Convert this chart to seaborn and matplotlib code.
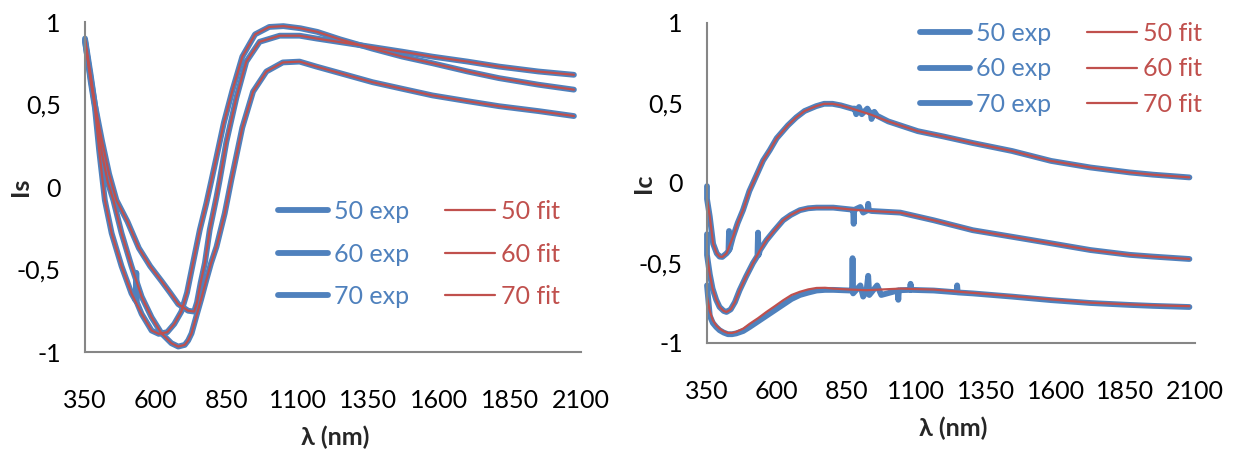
import matplotlib
matplotlib.use("Agg")
import matplotlib.pyplot as plt
import numpy as np
import pandas as pd
import seaborn as sns

# ---- Is panel (left) ----
is_wl_50 = [350, 370, 385, 410, 435, 461, 500, 540, 580, 620, 650, 679, 714, 735, 745, 758, 773, 790,
            814, 825, 849, 884, 919, 966, 1037, 1107, 1166, 1250, 1365, 1470, 1576, 1700, 1810, 1950, 2075]
is_fit_50 = [0.90, 0.68, 0.50, 0.28, 0.08, -0.08, -0.21, -0.37, -0.48, -0.57, -0.64, -0.71, -0.75, -0.755,
             -0.70, -0.58, -0.46, -0.26, -0.06, 0.04, 0.275, 0.54, 0.76, 0.88, 0.917, 0.917, 0.90, 0.878,
             0.848, 0.82, 0.79, 0.76, 0.73, 0.70, 0.68]

is_wl_60 = [350, 370, 385, 400, 420, 444, 479, 514, 550, 585, 610, 640, 665, 690, 710, 730, 755, 778,
            796, 815, 840, 870, 905, 950, 1000, 1050, 1110, 1170, 1250, 1365, 1470, 1576, 1700, 1810, 1950, 2075]
is_fit_60 = [0.89, 0.64, 0.48, 0.22, -0.08, -0.28, -0.48, -0.645, -0.77, -0.87, -0.89, -0.88, -0.83, -0.755,
             -0.64, -0.47, -0.26, -0.10, 0.04, 0.19, 0.39, 0.585, 0.79, 0.925, 0.97, 0.975, 0.962, 0.94,
             0.895, 0.838, 0.79, 0.75, 0.70, 0.66, 0.62, 0.59]

is_wl_70 = [350, 370, 385, 410, 430, 450, 479, 514, 550, 585, 620, 655, 679, 702, 714, 726, 745, 760, 778,
            795, 814, 843, 866, 905, 943, 990, 1048, 1107, 1166, 1250, 1365, 1470, 1576, 1700, 1810, 1950, 2075]
is_fit_70 = [0.88, 0.66, 0.50, 0.20, 0.03, -0.08, -0.28, -0.48, -0.665, -0.79, -0.887, -0.947, -0.967,
             -0.957, -0.93, -0.887, -0.77, -0.68, -0.564, -0.46, -0.362, -0.16, 0.04, 0.36, 0.578, 0.70,
             0.755, 0.76, 0.73, 0.69, 0.635, 0.595, 0.555, 0.52, 0.49, 0.46, 0.43]

# spike seen in the 60 exp curve
is_spike_wl_60 = [529, 531, 533]
is_spike_v_60 = [-0.69, -0.52, -0.70]

# ---- Ic panel (right) ----
ic_wl_50 = [350, 360, 372, 385, 395, 405, 420, 443, 460, 479, 502, 515, 551, 575, 600, 640, 670, 700,
            741, 770, 800, 830, 870, 938, 1000, 1106, 1200, 1303, 1444, 1584, 1725, 1866, 1950, 2080]
ic_fit_50 = [-0.10, -0.21, -0.38, -0.44, -0.46, -0.462, -0.44, -0.337, -0.25, -0.17, -0.05, 0.0, 0.14,
             0.205, 0.28, 0.36, 0.41, 0.45, 0.48, 0.495, 0.495, 0.485, 0.465, 0.427, 0.385, 0.324, 0.29,
             0.25, 0.20, 0.138, 0.097, 0.066, 0.052, 0.035]
ic_extra_wl_50 = [350, 427, 429, 431, 880, 885, 895, 905, 925, 940, 950, 960]
ic_extra_v_50 = [-0.02, -0.425, -0.30, -0.415, 0.465, 0.43, 0.475, 0.43, 0.465, 0.40, 0.445, 0.42]

ic_wl_60 = [350, 360, 370, 383, 395, 410, 420, 435, 450, 467, 490, 515, 540, 563, 590, 623, 650, 683,
            713, 743, 803, 863, 940, 1043, 1163, 1303, 1444, 1584, 1725, 1866, 1950, 2080]
ic_fit_60 = [-0.45, -0.57, -0.66, -0.73, -0.775, -0.80, -0.806, -0.79, -0.745, -0.67, -0.585, -0.50, -0.42,
             -0.358, -0.30, -0.233, -0.20, -0.17, -0.158, -0.154, -0.154, -0.165, -0.175, -0.185, -0.233,
             -0.295, -0.336, -0.377, -0.419, -0.449, -0.46, -0.475]
ic_extra_wl_60 = [350, 531, 533, 535, 874, 876, 878, 900, 910, 926, 928, 930]
ic_extra_v_60 = [-0.32, -0.455, -0.31, -0.45, -0.167, -0.255, -0.168, -0.15, -0.185, -0.17, -0.13, -0.17]

ic_wl_70 = [350, 360, 371, 383, 395, 410, 425, 440, 455, 480, 503, 533, 563, 593, 623, 653, 683, 713,
            743, 773, 803, 863, 922, 1043, 1163, 1303, 1444, 1584, 1725, 1866, 1950, 2080]
ic_fit_70 = [-0.71, -0.80, -0.858, -0.89, -0.91, -0.927, -0.937, -0.937, -0.93, -0.91, -0.88, -0.845,
             -0.806, -0.77, -0.733, -0.70, -0.68, -0.665, -0.656, -0.655, -0.66, -0.666, -0.67, -0.66,
             -0.666, -0.687, -0.707, -0.728, -0.748, -0.759, -0.764, -0.77]
ic_exp_70 = [-0.64, -0.83, -0.875, -0.90, -0.92, -0.935, -0.945, -0.945, -0.94, -0.925, -0.90, -0.865,
             -0.83, -0.795, -0.76, -0.725, -0.70, -0.685, -0.672, -0.668, -0.668, -0.672, -0.675, -0.67,
             -0.672, -0.69, -0.71, -0.732, -0.75, -0.762, -0.768, -0.775]
ic_extra_wl_70 = [870, 872, 874, 900, 910, 928, 932, 960, 975, 1034, 1036, 1038, 1078, 1080, 1082,
                  1245, 1247, 1249]
ic_extra_v_70 = [-0.67, -0.47, -0.69, -0.64, -0.71, -0.58, -0.70, -0.64, -0.70, -0.672, -0.73, -0.672,
                 -0.668, -0.63, -0.668, -0.683, -0.64, -0.684]

angles = ['50', '60', '70']
x_ticks = [350, 600, 850, 1100, 1350, 1600, 1850, 2100]
y_ticks = [-1, -0.5, 0, 0.5, 1]
y_tick_labels = ['-1', '-0,5', '0', '0,5', '1']

BLUE = '#4F81BD'
RED = '#C0504D'
AXIS_GREY = '#868686'
FS = 18

sns.set_style("white")
plt.rcParams['font.family'] = ['Lato', 'DejaVu Sans']


def merged(wl, v, extra_wl=(), extra_v=()):
    x = np.array(list(extra_wl) + list(wl), dtype=float)
    y = np.array(list(extra_v) + list(v), dtype=float)
    order = np.argsort(x, kind='stable')
    return pd.DataFrame({'wl': x[order], 'v': y[order]})


def draw_panel(ax, curves, ylabel, leg_anchor, row_gap):
    # thick blue experimental curves first, thin red fits on top
    for angle, c in zip(angles, curves):
        df = merged(c['wl'], c['exp'], c.get('xwl', ()), c.get('xv', ()))
        sns.lineplot(data=df, x='wl', y='v', ax=ax, sort=False, estimator=None,
                     color=BLUE, lw=4.2, label=f'{angle} exp')
    for angle, c in zip(angles, curves):
        df = pd.DataFrame({'wl': c['wl'], 'v': c['fit']})
        sns.lineplot(data=df, x='wl', y='v', ax=ax, sort=False, estimator=None,
                     color=RED, lw=1.6, label=f'{angle} fit')
    for ln in ax.get_lines():
        ln.set_clip_on(False)

    ax.set_xlim(350, 2100)
    ax.set_ylim(-1, 1)
    ax.set_xticks(x_ticks)
    ax.set_xticklabels([str(t) for t in x_ticks])
    ax.set_yticks(y_ticks)
    ax.set_yticklabels(y_tick_labels)
    ax.tick_params(axis='both', direction='out', length=5.5, width=1.3, color=AXIS_GREY,
                   labelsize=FS, labelcolor='black')
    ax.tick_params(axis='x', pad=21)
    ax.tick_params(axis='y', pad=12)
    for s in ['top', 'right']:
        ax.spines[s].set_visible(False)
    for s in ['left', 'bottom']:
        ax.spines[s].set_color(AXIS_GREY)
        ax.spines[s].set_linewidth(1.5)

    ax.set_xlabel('λ (nm)', fontsize=FS, fontweight='bold')
    ax.set_ylabel(ylabel, fontsize=FS, fontweight='bold')
    ax.xaxis.label.set_va('center')
    ax.yaxis.label.set_va('center')

    handles, labels = ax.get_legend_handles_labels()
    leg = ax.legend(handles, labels, ncol=2, loc='upper left', bbox_to_anchor=leg_anchor,
                    frameon=False, fontsize=FS, handlelength=2.0, handletextpad=0.25,
                    columnspacing=1.4, labelspacing=row_gap, borderpad=0, borderaxespad=0)
    for txt, h in zip(leg.get_texts(), leg.legend_handles):
        txt.set_color(h.get_color())


fig = plt.figure(figsize=(12.37, 4.5), dpi=100)
ax_s = fig.add_axes([85 / 1237, 1 - 352 / 450, 496 / 1237, 330 / 450])
ax_c = fig.add_axes([707 / 1237, 1 - 343 / 450, 488 / 1237, 320 / 450])

is_curves = [
    {'wl': is_wl_50, 'exp': is_fit_50, 'fit': is_fit_50},
    {'wl': is_wl_60, 'exp': is_fit_60, 'fit': is_fit_60, 'xwl': is_spike_wl_60, 'xv': is_spike_v_60},
    {'wl': is_wl_70, 'exp': is_fit_70, 'fit': is_fit_70},
]
ic_curves = [
    {'wl': ic_wl_50, 'exp': ic_fit_50, 'fit': ic_fit_50, 'xwl': ic_extra_wl_50, 'xv': ic_extra_v_50},
    {'wl': ic_wl_60, 'exp': ic_fit_60, 'fit': ic_fit_60, 'xwl': ic_extra_wl_60, 'xv': ic_extra_v_60},
    {'wl': ic_wl_70, 'exp': ic_exp_70, 'fit': ic_fit_70, 'xwl': ic_extra_wl_70, 'xv': ic_extra_v_70},
]

draw_panel(ax_s, is_curves, 'Is', ((278 - 85) / 496, (352 - 200) / 330), 0.78)
draw_panel(ax_c, ic_curves, 'Ic', ((920 - 707) / 488, (343 - 22) / 320), 0.49)

ax_s.xaxis.set_label_coords(0.504, -0.258)
ax_s.yaxis.set_label_coords(-0.131, 0.5)
ax_c.xaxis.set_label_coords(0.504, -0.267)
ax_c.yaxis.set_label_coords(-0.13, 0.5)

fig.savefig('out.png', dpi=100)
